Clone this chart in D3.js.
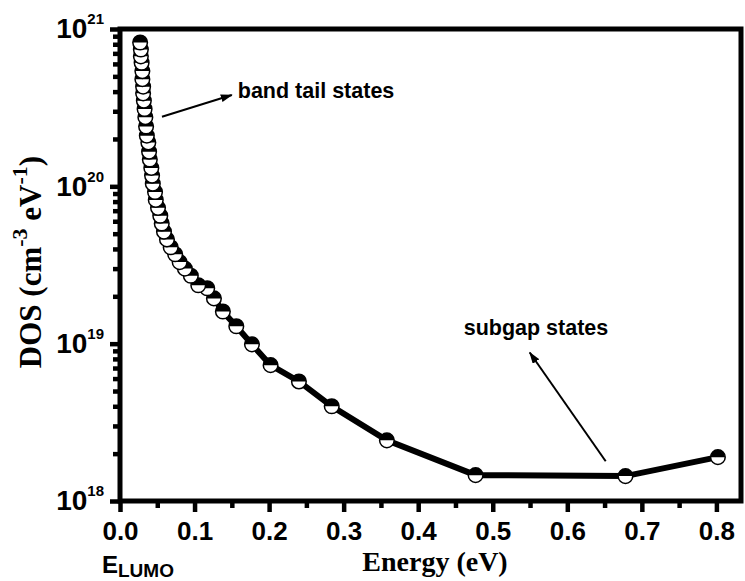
<!DOCTYPE html>
<html><head><meta charset="utf-8">
<script src="https://cdn.jsdelivr.net/npm/d3@7"></script>
<style>body{margin:0;background:#fff} svg{display:block}</style>
</head><body>
<svg id="c" width="745" height="581"></svg>
<script>
// ---- data ----
const energy = [0.027,0.028,0.028,0.029,0.030,0.030,0.031,0.031,0.032,0.033,0.034,0.035,0.036,0.038,0.039,0.040,0.042,0.043,0.044,0.047,0.048,0.051,0.054,0.056,0.059,0.063,0.068,0.074,0.080,0.087,0.095,0.105,0.117,0.126,0.138,0.156,0.177,0.202,0.240,0.284,0.358,0.477,0.678,0.802];
const dos = [8.2e20,7.4e20,6.7e20,6.1e20,5.4e20,4.8e20,4.3e20,3.9e20,3.5e20,3.1e20,2.75e20,2.4e20,2.1e20,1.9e20,1.66e20,1.48e20,1.31e20,1.17e20,1.04e20,9.2e19,8.2e19,7.3e19,6.5e19,5.8e19,5.15e19,4.6e19,4.1e19,3.7e19,3.3e19,3.0e19,2.7e19,2.35e19,2.25e19,1.94e19,1.6e19,1.29e19,9.9e18,7.3e18,5.75e18,4.0e18,2.43e18,1.46e18,1.44e18,1.9e18];
const xTicks = [0,0.1,0.2,0.3,0.4,0.5,0.6,0.7,0.8];
const xMinorTicks = [0.05,0.15,0.25,0.35,0.45,0.55,0.65,0.75];
const yTicks = [1e18,1e19,1e20,1e21];
const yTickExponents = ["18","19","20","21"];
const yDecades = [1e18,1e19,1e20];
const yMinorMult = [2,3,4,5,6,7,8,9];
const xDomain = [0,0.833];
const yDomain = [1e18,1e21];
const bandTail = {text:"band tail states", from:[0.0563,2.77e20], to:[0.150,3.81e20], at:[0.158,3.65e20]};
const subgap = {text:"subgap states", from:[0.6515,1.79e18], to:[0.5496,8.79e18], at:[0.461,1.13e19]};

// ---- layout ----
const L=120, R=741, T=29, B=501;
const sans='"Liberation Sans", Arial, sans-serif';
const serif='"Liberation Serif", "Times New Roman", serif';
const svg=d3.select("#c");
svg.append("rect").attr("width",745).attr("height",581).attr("fill","#fff");
const x=d3.scaleLinear().domain(xDomain).range([L,R]);
const y=d3.scaleLog().domain(yDomain).range([B,T]);

const defs=svg.append("defs");
defs.append("marker").attr("id","ah").attr("viewBox","0 0 12 8").attr("refX",11).attr("refY",4)
  .attr("markerWidth",12).attr("markerHeight",8).attr("markerUnits","userSpaceOnUse").attr("orient","auto")
  .append("path").attr("d","M0,0 L12,4 L0,8 Z").attr("fill","#000");

const pts=energy.map((e,i)=>[e,dos[i]]);
// line
svg.append("path").datum(pts).attr("fill","none").attr("stroke","#000").attr("stroke-width",6)
  .attr("d",d3.line().x(d=>x(d[0])).y(d=>y(d[1])));
// markers (earlier points on top)
const r=7.3;
const g=svg.append("g");
const m=g.selectAll("g").data(pts.slice().reverse()).join("g")
  .attr("transform",d=>`translate(${x(d[0])},${y(d[1])})`);
m.append("circle").attr("r",r).attr("fill","#fff");
m.append("path").attr("d",`M${-r},0 A${r},${r} 0 0 1 ${r},0 Z`).attr("fill","#000");
m.append("circle").attr("r",r).attr("fill","none").attr("stroke","#000").attr("stroke-width",1.5);

// axes
const xa=svg.append("g").attr("transform",`translate(0,${B})`)
  .call(d3.axisBottom(x).tickValues(xTicks).tickSize(11).tickPadding(10).tickFormat(d3.format(".1f")));
const xm=svg.append("g").attr("transform",`translate(0,${B})`)
  .call(d3.axisBottom(x).tickValues(xMinorTicks).tickSize(7).tickFormat(""));
const ya=svg.append("g").attr("transform",`translate(${L},0)`)
  .call(d3.axisLeft(y).tickValues(yTicks).tickSize(10).tickPadding(6).tickFormat(()=>""));
const yMinor=[];yDecades.forEach(d=>yMinorMult.forEach(k=>yMinor.push(d*k)));
const ym=svg.append("g").attr("transform",`translate(${L},0)`)
  .call(d3.axisLeft(y).tickValues(yMinor).tickSize(7).tickFormat(""));
[xa,xm,ya,ym].forEach(a=>{a.select(".domain").remove();a.selectAll("line").attr("stroke","#000").attr("stroke-width",4.5);});
xa.selectAll("text").attr("font-family",sans).attr("font-weight","bold").attr("font-size",26).attr("fill","#000");
ya.selectAll(".tick text").each(function(d,i){
  const t=d3.select(this).attr("font-family",sans).attr("font-weight","bold").attr("font-size",28).attr("fill","#000");
  t.text(null);
  t.append("tspan").text("10");
  t.append("tspan").attr("font-size",15).attr("dy",-14).text(yTickExponents[yTicks.indexOf(d)]);
});
// frame
svg.append("rect").attr("x",L).attr("y",T).attr("width",R-L).attr("height",B-T)
  .attr("fill","none").attr("stroke","#000").attr("stroke-width",5);

// titles
svg.append("text").attr("x",435).attr("y",571).attr("text-anchor","middle")
  .attr("font-family",serif).attr("font-weight","bold").attr("font-size",28).text("Energy (eV)");
const yl=svg.append("text").attr("transform","translate(41,262) rotate(-90)").attr("text-anchor","middle")
  .attr("font-family",serif).attr("font-weight","bold").attr("font-size",31);
yl.append("tspan").text("DOS (cm");
yl.append("tspan").attr("font-size",22).attr("dy",-14).text("-3");
yl.append("tspan").attr("dy",14).text(" eV");
yl.append("tspan").attr("font-size",22).attr("dy",-14).text("-1");
yl.append("tspan").attr("dy",14).text(")");

const el=svg.append("text").attr("x",102).attr("y",573).attr("font-family",sans).attr("font-weight","bold").attr("font-size",24);
el.append("tspan").text("E");
el.append("tspan").attr("font-size",19).attr("dy",4).text("LUMO");

// annotations
[bandTail,subgap].forEach(a=>{
  svg.append("line").attr("x1",x(a.from[0])).attr("y1",y(a.from[1])).attr("x2",x(a.to[0])).attr("y2",y(a.to[1]))
    .attr("stroke","#000").attr("stroke-width",2).attr("marker-end","url(#ah)");
  svg.append("text").attr("x",x(a.at[0])).attr("y",y(a.at[1])).attr("font-family",sans).attr("font-weight","bold")
    .attr("font-size",21.5).attr("fill","#000").text(a.text);
});
</script>
</body></html>
